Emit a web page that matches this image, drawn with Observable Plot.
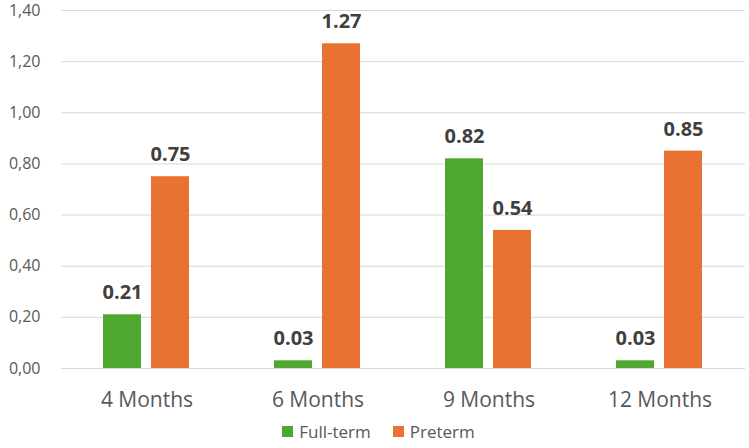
<!DOCTYPE html>
<html>
<head>
<meta charset="utf-8">
<script src="https://cdn.jsdelivr.net/npm/d3@7"></script>
<script src="https://cdn.jsdelivr.net/npm/@observablehq/plot@0.6"></script>
<style>
  body { margin: 0; background: #fff; font-family: "Open Sans", sans-serif; }
  #chart { width: 749px; }
  .legend { display: flex; justify-content: center; gap: 22px; font-size: 17px; line-height: 19px; color: #595959; margin-top: 4px; padding-left: 8px; }
  .legend span.item { display: inline-flex; align-items: center; }
  .legend span.sw { width: 11px; height: 11px; display: inline-block; margin-right: 6px; }
</style>
</head>
<body>
<div id="chart"></div>
<script>
const categories = ["4 Months", "6 Months", "9 Months", "12 Months"];
const seriesNames = ["Full-term", "Preterm"];
const fullTerm = [0.21, 0.03, 0.82, 0.03];
const preterm = [0.75, 1.27, 0.54, 0.85];
const yTicks = [0, 0.2, 0.4, 0.6, 0.8, 1.0, 1.2, 1.4];
const colors = ["#4ea72e", "#e97132"];

const data = [];
categories.forEach((c, i) => {
  data.push({cat: c, series: seriesNames[0], value: fullTerm[i]});
  data.push({cat: c, series: seriesNames[1], value: preterm[i]});
});

const chart = Plot.plot({
  width: 749,
  height: 418,
  marginTop: 10,
  marginBottom: 50,
  marginLeft: 60,
  marginRight: 4,
  style: {fontFamily: "'Open Sans', sans-serif", background: "#fff"},
  fx: {domain: categories, padding: 0, paddingInner: 0, paddingOuter: 0},
  x: {domain: seriesNames, paddingInner: 0.204, paddingOuter: 0.847, axis: null},
  y: {domain: [0, 1.4], ticks: yTicks},
  color: {domain: seriesNames, range: colors},
  marks: [
    Plot.gridY(yTicks, {stroke: "#d9d9d9", strokeOpacity: 1, strokeWidth: 1}),
    Plot.axisY(yTicks, {tickSize: 0, tickPadding: 21, fontSize: 16, fill: "#595959",
      tickFormat: d => d.toFixed(2).replace(".", ","), label: null}),
    Plot.axisFx({tickSize: 0, tickPadding: 24, fontSize: 21, fill: "#595959", label: null, anchor: "bottom"}),
    Plot.barY(data, {fx: "cat", x: "series", y: "value", fill: "series"}),
    Plot.text(data, {fx: "cat", x: "series", y: "value", text: d => d.value.toFixed(2),
      dy: -22, fontSize: 20, fontWeight: "bold", fill: "#404040"})
  ]
});
document.getElementById("chart").appendChild(chart);

const legend = document.createElement("div");
legend.className = "legend";
seriesNames.forEach((s, i) => {
  const item = document.createElement("span");
  item.className = "item";
  item.innerHTML = `<span class="sw" style="background:${colors[i]}"></span>${s}`;
  legend.appendChild(item);
});
document.getElementById("chart").appendChild(legend);
</script>
</body>
</html>
